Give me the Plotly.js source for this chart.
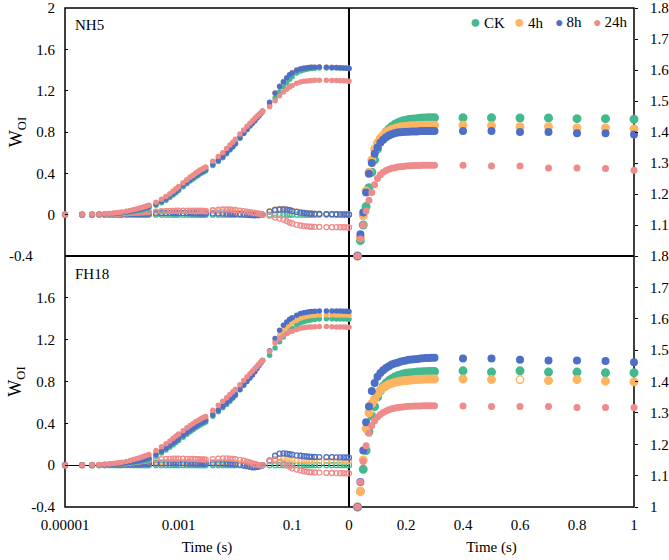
<!DOCTYPE html>
<html>
<head>
<meta charset="utf-8">
<script src="https://cdn.plot.ly/plotly-3.0.1.min.js"></script>
<style>html,body{margin:0;padding:0;background:#fff;}#chart{width:669px;height:560px;}</style>
</head>
<body>
<div id="chart"></div>
<script>
// ---------- DATA ----------
const groups = ['CK', '4h', '8h', '24h'];
const panelLabels = ['NH5', 'FH18'];

// time points (s) for the log-scale panels
const tLog = [0.00001,0.00002,0.00003,0.00004,0.00005,0.00006,0.00007,0.00008,0.00009,0.0001,0.00012,0.00014,0.00016,0.00018,0.0002,0.00022,0.00024,0.00026,0.00028,0.0003,
0.0004,0.0005,0.0006,0.0007,0.0008,0.0009,0.001,0.0012,0.0014,0.0016,0.0018,0.002,0.0022,0.0024,0.0026,0.0028,0.003,
0.004,0.005,0.006,0.007,0.008,0.009,0.01,0.012,0.014,0.016,0.018,0.02,0.022,0.024,0.026,0.028,0.03,
0.04,0.05,0.06,0.07,0.08,0.09,0.1,0.12,0.14,0.16,0.18,0.2,0.22,0.25,0.3,
0.4,0.5,0.6,0.7,0.8,0.9,1];

// time points (s) for the linear panels
const tLin = [0.03,0.04,0.05,0.06,0.07,0.08,0.09,0.1,0.11,0.12,0.13,0.14,0.15,0.16,0.17,0.18,0.19,0.2,0.21,0.22,0.23,0.24,0.25,0.26,0.27,0.28,0.29,0.3,
0.4,0.5,0.6,0.7,0.8,0.9,1];

// NH5 W_OI (log panel)
const nh5CK = [0,0.001,0.002,0.003,0.005,0.007,0.009,0.011,0.014,0.016,0.021,0.026,0.031,0.036,0.041,0.046,0.051,0.056,0.061,0.066,
0.09,0.115,0.14,0.165,0.19,0.212,0.233,0.27,0.3,0.325,0.345,0.365,0.38,0.395,0.405,0.415,0.425,
0.475,0.515,0.55,0.59,0.625,0.655,0.685,0.74,0.785,0.825,0.86,0.89,0.915,0.94,0.96,0.98,1,
1.055,1.13,1.19,1.235,1.275,1.31,1.335,1.37,1.39,1.4,1.407,1.412,1.415,1.418,1.42,
1.42,1.42,1.419,1.418,1.417,1.416,1.414];
const nh5H4 = [0,0.001,0.003,0.004,0.007,0.01,0.013,0.016,0.02,0.023,0.03,0.037,0.044,0.051,0.058,0.064,0.07,0.076,0.082,0.088,
0.116,0.145,0.173,0.2,0.227,0.25,0.272,0.31,0.34,0.365,0.385,0.404,0.419,0.433,0.443,0.452,0.462,
0.51,0.548,0.58,0.618,0.65,0.677,0.705,0.756,0.797,0.834,0.866,0.894,0.917,0.941,0.96,0.98,1,
1.09,1.18,1.245,1.29,1.325,1.355,1.375,1.402,1.415,1.42,1.423,1.425,1.426,1.427,1.428,
1.427,1.426,1.424,1.422,1.421,1.419,1.417];
const nh5H8 = [0,0.001,0.002,0.004,0.006,0.009,0.011,0.014,0.017,0.02,0.026,0.032,0.038,0.044,0.05,0.056,0.061,0.067,0.072,0.078,
0.103,0.129,0.154,0.18,0.205,0.227,0.248,0.285,0.314,0.339,0.359,0.378,0.393,0.408,0.417,0.427,0.437,
0.487,0.527,0.561,0.6,0.634,0.663,0.692,0.745,0.787,0.825,0.857,0.885,0.909,0.935,0.957,0.979,1,
1.085,1.175,1.24,1.285,1.323,1.354,1.37,1.397,1.41,1.416,1.42,1.425,1.426,1.427,1.428,
1.426,1.425,1.423,1.421,1.419,1.418,1.415];
const nh5H24 = [0,0.002,0.003,0.005,0.008,0.011,0.014,0.018,0.022,0.026,0.033,0.041,0.048,0.055,0.062,0.068,0.074,0.08,0.086,0.092,
0.12,0.148,0.175,0.201,0.226,0.249,0.27,0.306,0.336,0.361,0.38,0.4,0.415,0.43,0.44,0.45,0.459,
0.518,0.563,0.6,0.64,0.675,0.702,0.73,0.78,0.82,0.855,0.885,0.91,0.932,0.953,0.97,0.985,1,
1.045,1.102,1.152,1.187,1.213,1.235,1.25,1.272,1.285,1.29,1.294,1.297,1.298,1.3,1.301,
1.3,1.299,1.298,1.296,1.295,1.293,1.29];

// NH5 delta W_OI (treatment minus CK), log panel
const nh5dCK = [0,0,0,0,0,0,0,0,0,0,0,0,0,0,0,0,0,0,0,0,
0,0,0,0,0,0,0,0,0,0,0,0,0,0,0,0,0,
0,0,0,0,0,0,0,0,0,0,0,0,0,0,0,0,0,
0,0,0,0,0,0,0,0,0,0,0,0,0,0,0,
0,0,0,0,0,0,0];
const nh5dH4 = [0,0,0.001,0.001,0.002,0.003,0.004,0.005,0.006,0.007,0.009,0.011,0.013,0.015,0.017,0.018,0.019,0.02,0.021,0.022,
0.026,0.03,0.033,0.035,0.037,0.038,0.039,0.04,0.04,0.04,0.04,0.039,0.039,0.038,0.038,0.037,0.037,
0.035,0.033,0.03,0.028,0.025,0.022,0.02,0.016,0.012,0.009,0.006,0.004,0.002,0.001,0,0,0,
0.035,0.05,0.055,0.055,0.05,0.045,0.04,0.032,0.025,0.02,0.016,0.013,0.011,0.009,0.008,
0.007,0.006,0.005,0.004,0.004,0.003,0.003];
const nh5dH8 = [0,0,0,0.001,0.001,0.002,0.002,0.003,0.003,0.004,0.005,0.006,0.007,0.008,0.009,0.01,0.01,0.011,0.011,0.012,
0.013,0.014,0.014,0.015,0.015,0.015,0.015,0.015,0.014,0.014,0.014,0.013,0.013,0.013,0.012,0.012,0.012,
0.012,0.012,0.011,0.01,0.009,0.008,0.007,0.005,0.002,0,-0.003,-0.005,-0.006,-0.005,-0.003,-0.001,0,
0.03,0.045,0.05,0.05,0.048,0.044,0.035,0.027,0.02,0.016,0.013,0.011,0.009,0.008,0.007,
0.006,0.005,0.004,0.003,0.002,0.002,0.001];
const nh5dH24 = [0,0.001,0.001,0.002,0.003,0.004,0.005,0.007,0.008,0.01,0.012,0.015,0.017,0.019,0.021,0.022,0.023,0.024,0.025,0.026,
0.03,0.033,0.035,0.036,0.036,0.037,0.037,0.036,0.036,0.036,0.035,0.035,0.035,0.035,0.035,0.035,0.034,
0.043,0.048,0.05,0.05,0.05,0.047,0.045,0.04,0.035,0.03,0.025,0.02,0.017,0.013,0.01,0.005,0,
-0.01,-0.028,-0.038,-0.048,-0.062,-0.075,-0.085,-0.098,-0.105,-0.11,-0.113,-0.115,-0.117,-0.118,-0.119,
-0.12,-0.121,-0.121,-0.122,-0.122,-0.123,-0.124];

// FH18 W_OI (log panel)
const fh18CK = [0,0.001,0.002,0.003,0.004,0.005,0.007,0.009,0.011,0.013,0.017,0.022,0.026,0.03,0.034,0.038,0.042,0.046,0.049,0.052,
0.085,0.117,0.145,0.171,0.195,0.216,0.236,0.268,0.296,0.32,0.338,0.357,0.371,0.384,0.395,0.404,0.413,
0.467,0.51,0.548,0.581,0.612,0.641,0.667,0.72,0.768,0.811,0.849,0.882,0.914,0.942,0.964,0.984,1,
1.05,1.12,1.18,1.225,1.26,1.29,1.31,1.34,1.36,1.372,1.38,1.386,1.39,1.394,1.397,
1.399,1.399,1.398,1.398,1.397,1.397,1.396];
const fh18H4 = [0,0.001,0.003,0.004,0.006,0.008,0.011,0.014,0.017,0.02,0.026,0.033,0.039,0.045,0.051,0.057,0.063,0.069,0.073,0.077,
0.113,0.147,0.176,0.203,0.227,0.248,0.268,0.3,0.327,0.351,0.368,0.387,0.4,0.413,0.423,0.432,0.44,
0.497,0.541,0.579,0.611,0.64,0.667,0.691,0.739,0.782,0.82,0.854,0.884,0.914,0.94,0.962,0.983,1,
1.09,1.18,1.245,1.289,1.32,1.346,1.363,1.389,1.406,1.416,1.423,1.428,1.431,1.434,1.437,
1.438,1.438,1.437,1.436,1.435,1.435,1.434];
const fh18H8 = [0,0.001,0.002,0.004,0.005,0.007,0.009,0.012,0.014,0.017,0.022,0.028,0.033,0.038,0.043,0.048,0.053,0.058,0.062,0.066,
0.101,0.134,0.162,0.189,0.213,0.234,0.254,0.286,0.313,0.337,0.355,0.373,0.387,0.4,0.41,0.419,0.428,
0.483,0.526,0.563,0.595,0.624,0.651,0.675,0.723,0.765,0.801,0.833,0.862,0.894,0.925,0.952,0.978,1,
1.095,1.21,1.29,1.337,1.37,1.395,1.41,1.434,1.45,1.458,1.463,1.467,1.469,1.472,1.474,
1.475,1.475,1.473,1.473,1.471,1.471,1.469];
const fh18H24 = [0,0.002,0.004,0.006,0.009,0.012,0.016,0.02,0.024,0.028,0.036,0.045,0.053,0.061,0.069,0.076,0.083,0.09,0.096,0.102,
0.14,0.175,0.205,0.232,0.257,0.278,0.298,0.33,0.357,0.38,0.398,0.415,0.428,0.44,0.45,0.458,0.466,
0.525,0.572,0.612,0.645,0.675,0.702,0.725,0.77,0.81,0.845,0.875,0.9,0.925,0.947,0.965,0.983,1,
1.09,1.168,1.212,1.24,1.26,1.275,1.28,1.298,1.31,1.315,1.318,1.32,1.322,1.324,1.326,
1.325,1.324,1.322,1.321,1.32,1.319,1.318];

// FH18 delta W_OI, log panel
const fh18dCK = [0,0,0,0,0,0,0,0,0,0,0,0,0,0,0,0,0,0,0,0,
0,0,0,0,0,0,0,0,0,0,0,0,0,0,0,0,0,
0,0,0,0,0,0,0,0,0,0,0,0,0,0,0,0,0,
0,0,0,0,0,0,0,0,0,0,0,0,0,0,0,
0,0,0,0,0,0,0];
const fh18dH4 = [0,0,0.001,0.001,0.002,0.003,0.004,0.005,0.006,0.007,0.009,0.011,0.013,0.015,0.017,0.019,0.021,0.023,0.024,0.025,
0.028,0.03,0.031,0.032,0.032,0.032,0.032,0.032,0.031,0.031,0.03,0.03,0.029,0.029,0.028,0.028,0.027,
0.03,0.031,0.031,0.03,0.028,0.026,0.024,0.019,0.014,0.009,0.005,0.002,0,-0.002,-0.002,-0.001,0,
0.04,0.06,0.065,0.064,0.06,0.056,0.053,0.049,0.046,0.044,0.043,0.042,0.041,0.04,0.04,
0.039,0.039,0.039,0.038,0.038,0.038,0.038];
const fh18dH8 = [0,0,0,0.001,0.001,0.002,0.002,0.003,0.003,0.004,0.005,0.006,0.007,0.008,0.009,0.01,0.011,0.012,0.013,0.014,
0.016,0.017,0.017,0.018,0.018,0.018,0.018,0.018,0.017,0.017,0.017,0.016,0.016,0.016,0.015,0.015,0.015,
0.016,0.016,0.015,0.014,0.012,0.01,0.008,0.003,-0.003,-0.01,-0.016,-0.02,-0.02,-0.017,-0.012,-0.006,0,
0.045,0.09,0.11,0.112,0.11,0.105,0.1,0.094,0.09,0.086,0.083,0.081,0.079,0.078,0.077,
0.076,0.076,0.075,0.075,0.074,0.074,0.073];
const fh18dH24 = [0,0.001,0.002,0.003,0.005,0.007,0.009,0.011,0.013,0.015,0.019,0.023,0.027,0.031,0.035,0.038,0.041,0.044,0.047,0.05,
0.055,0.058,0.06,0.061,0.062,0.062,0.062,0.062,0.061,0.06,0.06,0.058,0.057,0.056,0.055,0.054,0.053,
0.058,0.062,0.064,0.064,0.063,0.061,0.058,0.05,0.042,0.034,0.026,0.018,0.011,0.005,0.001,-0.001,0,
0.04,0.048,0.032,0.015,0,-0.015,-0.03,-0.042,-0.05,-0.057,-0.062,-0.066,-0.068,-0.07,-0.071,
-0.074,-0.075,-0.076,-0.077,-0.077,-0.078,-0.078];

// W_OI >= 1 on linear time (right panels)
const nh5LinCK = [1,1.05,1.1,1.16,1.22,1.27,1.31,1.345,1.37,1.385,1.4,1.41,1.418,1.424,1.429,1.433,1.436,1.438,1.44,1.441,1.442,1.443,1.444,1.445,1.445,1.446,1.446,1.446,
1.446,1.446,1.445,1.445,1.443,1.443,1.441];
const nh5LinH4 = [1,1.06,1.13,1.21,1.27,1.31,1.345,1.365,1.38,1.39,1.398,1.404,1.408,1.411,1.414,1.416,1.417,1.418,1.419,1.42,1.42,1.421,1.421,1.421,1.422,1.422,1.422,1.422,
1.422,1.42,1.417,1.417,1.413,1.413,1.41];
const nh5LinH8 = [1,1.07,1.14,1.205,1.265,1.3,1.33,1.35,1.365,1.375,1.383,1.389,1.393,1.396,1.398,1.399,1.4,1.401,1.401,1.402,1.402,1.402,1.403,1.403,1.403,1.403,1.403,1.403,
1.403,1.403,1.4,1.4,1.396,1.396,1.392];
const nh5LinH24 = [1,1.055,1.1,1.145,1.18,1.205,1.23,1.25,1.262,1.27,1.276,1.28,1.283,1.285,1.287,1.288,1.289,1.29,1.291,1.291,1.292,1.292,1.292,1.293,1.293,1.293,1.293,1.293,
1.293,1.29,1.29,1.284,1.284,1.282,1.277];
const fh18LinCK = [1,1.05,1.12,1.18,1.24,1.29,1.32,1.35,1.37,1.385,1.395,1.403,1.409,1.414,1.418,1.421,1.424,1.426,1.427,1.428,1.429,1.43,1.43,1.431,1.431,1.432,1.432,1.432,
1.434,1.43,1.434,1.43,1.43,1.428,1.428];
const fh18LinH4 = [1,1.05,1.15,1.25,1.3,1.33,1.345,1.36,1.372,1.38,1.386,1.391,1.394,1.397,1.399,1.401,1.402,1.403,1.404,1.405,1.406,1.406,1.407,1.407,1.408,1.408,1.408,1.408,
1.408,1.406,1.406,1.403,1.406,1.401,1.399];
const fh18LinH8 = [1,1.08,1.18,1.27,1.32,1.37,1.395,1.415,1.427,1.436,1.443,1.449,1.454,1.457,1.46,1.463,1.465,1.467,1.469,1.47,1.471,1.472,1.473,1.474,1.475,1.475,1.476,1.476,
1.473,1.473,1.469,1.467,1.467,1.465,1.461];
const fh18LinH24 = [1,1.08,1.145,1.195,1.235,1.26,1.275,1.287,1.295,1.301,1.306,1.31,1.313,1.315,1.317,1.318,1.319,1.32,1.321,1.321,1.322,1.322,1.322,1.323,1.323,1.323,1.323,1.323,
1.322,1.32,1.32,1.32,1.317,1.317,1.317];

const leftTickVals = [-0.4, 0, 0.4, 0.8, 1.2, 1.6, 2];
const leftTickText = ['-0.4', '0', '0.4', '0.8', '1.2', '1.6', '2'];
const rightTickVals = [1, 1.1, 1.2, 1.3, 1.4, 1.5, 1.6, 1.7, 1.8];
const rightTickText = ['1', '1.1', '1.2', '1.3', '1.4', '1.5', '1.6', '1.7', '1.8'];
const logTickVals = [0.00001, 0.001, 0.1];
const logTickText = ['0.00001', '0.001', '0.1'];
const linTickVals = [0, 0.2, 0.4, 0.6, 0.8, 1];
const linTickText = ['0', '0.2', '0.4', '0.6', '0.8', '1'];

// ---------- STYLE ----------
const colors = {'CK': '#44B98F', '4h': '#FDB562', '8h': '#4E6FC6', '24h': '#EE8B8B'};
const rightSize = {'CK': 7.5, '4h': 7.5, '8h': 6.5, '24h': 5.5};
const legendDot = {'CK': 18, '4h': 18, '8h': 14, '24h': 14};
const legendLeftPx = {'CK': 468, '4h': 512, '8h': 553, '24h': 591};
const FONT = 'Liberation Serif, Times New Roman, serif';

const W = 669, H = 560;
const mL = 65, mR = 35, mT = 8, mB = 53;
const PW = W - mL - mR, PH = H - mT - mB;
const xSplit = (349 - mL) / PW;
const ySplit = (H - mB - 256) / PH;

const logData = {
  NH5: {W: [nh5CK, nh5H4, nh5H8, nh5H24], D: [nh5dCK, nh5dH4, nh5dH8, nh5dH24], xa: 'x3', ya: 'y'},
  FH18: {W: [fh18CK, fh18H4, fh18H8, fh18H24], D: [fh18dCK, fh18dH4, fh18dH8, fh18dH24], xa: 'x', ya: 'y2'}
};
const linData = {
  NH5: {W: [nh5LinCK, nh5LinH4, nh5LinH8, nh5LinH24], xa: 'x4', ya: 'y3'},
  FH18: {W: [fh18LinCK, fh18LinH4, fh18LinH8, fh18LinH24], xa: 'x2', ya: 'y4'}
};

const traces = [];
panelLabels.forEach(p => {
  const d = logData[p];
  groups.forEach((g, i) => {
    traces.push({
      type: 'scatter', mode: 'markers', x: tLog, y: d.D[i], xaxis: d.xa, yaxis: d.ya,
      name: g, showlegend: false, cliponaxis: false, hoverinfo: 'skip',
      marker: {symbol: 'circle-open', size: 5, color: colors[g], line: {width: 1.3, color: colors[g]}}
    });
  });
  groups.forEach((g, i) => {
    traces.push({
      type: 'scatter', mode: 'markers', x: tLog, y: d.W[i], xaxis: d.xa, yaxis: d.ya,
      name: g, showlegend: false, cliponaxis: false, hoverinfo: 'skip',
      marker: {symbol: 'circle', size: 5.5, color: colors[g]}
    });
  });
});
panelLabels.forEach((p, pi) => {
  const d = linData[p];
  groups.forEach((g, i) => {
    // one hollow-looking 4h marker at 0.6 s in FH18 as in the original
    const fill = tLin.map(t => (p === 'FH18' && g === '4h' && t === 0.6) ? '#ffffff' : colors[g]);
    traces.push({
      type: 'scatter', mode: 'markers', x: tLin, y: d.W[i], xaxis: d.xa, yaxis: d.ya,
      name: g, showlegend: false, legendgroup: g, cliponaxis: false, hoverinfo: 'skip',
      marker: {symbol: 'circle', size: rightSize[g], color: fill, line: {width: 1.5, color: colors[g]}}
    });
  });
});

const txtFont = {family: FONT, size: 15, color: '#000'};
const common = {showgrid: false, zeroline: false, showline: false, tickfont: txtFont, fixedrange: true,
                ticklabeloverflow: 'allow'};

// compact legend row (CK, 4h, 8h, 24h) as in the original
const legendAnn = groups.map(g => ({
  text: '<span style="color:' + colors[g] + ';font-size:' + legendDot[g] + 'px">\u25CF</span>\u2009' + g,
  xref: 'paper', yref: 'paper', x: (legendLeftPx[g] - mL) / PW, y: 1 - (22 - mT) / PH,
  xanchor: 'left', yanchor: 'middle', showarrow: false, font: txtFont
}));

const layout = {
  width: W, height: H,
  margin: {l: mL, r: mR, t: mT, b: mB},
  paper_bgcolor: '#fff', plot_bgcolor: '#fff',
  font: txtFont,
  showlegend: false,
  xaxis: Object.assign({}, common, {domain: [0, xSplit], anchor: 'y2', type: 'log', range: [-5, 0],
          tickvals: logTickVals, ticktext: logTickText, ticks: '', ticklabelstandoff: 7,
          title: {text: 'Time (s)', font: txtFont, standoff: 9}}),
  xaxis3: Object.assign({}, common, {domain: [0, xSplit], anchor: 'y', type: 'log', range: [-5, 0],
          showticklabels: false, ticks: ''}),
  xaxis2: Object.assign({}, common, {domain: [xSplit, 1], anchor: 'y4', range: [0, 1],
          tickvals: linTickVals, ticktext: linTickText, ticks: '', ticklabelstandoff: 7,
          title: {text: 'Time (s)', font: txtFont, standoff: 9}}),
  xaxis4: Object.assign({}, common, {domain: [xSplit, 1], anchor: 'y3', range: [0, 1],
          showticklabels: false, ticks: ''}),
  yaxis: Object.assign({}, common, {domain: [ySplit, 1], anchor: 'x3', range: [-0.4, 2],
          tickvals: leftTickVals.slice(1), ticktext: leftTickText.slice(1),
          ticks: 'inside', ticklen: 3, tickwidth: 1, tickcolor: '#000', ticklabelstandoff: 9,
          title: {text: 'W<sub>OI</sub>', font: {family: FONT, size: 18, color: '#000'}, standoff: 8}}),
  yaxis2: Object.assign({}, common, {domain: [0, ySplit], anchor: 'x', range: [-0.4, 2],
          tickvals: leftTickVals.slice(0, 6), ticktext: leftTickText.slice(0, 6),
          ticks: 'inside', ticklen: 3, tickwidth: 1, tickcolor: '#000', ticklabelstandoff: 9,
          zeroline: true, zerolinecolor: '#000', zerolinewidth: 1,
          title: {text: 'W<sub>OI</sub>', font: {family: FONT, size: 18, color: '#000'}, standoff: 4}}),
  yaxis3: Object.assign({}, common, {domain: [ySplit, 1], anchor: 'x4', side: 'right', range: [1, 1.8],
          tickvals: rightTickVals.slice(1), ticktext: rightTickText.slice(1),
          ticks: 'outside', ticklen: 3, tickwidth: 1, tickcolor: '#000', ticklabelstandoff: 9}),
  yaxis4: Object.assign({}, common, {domain: [0, ySplit], anchor: 'x2', side: 'right', range: [1, 1.8],
          tickvals: rightTickVals, ticktext: rightTickText,
          ticks: 'outside', ticklen: 3, tickwidth: 1, tickcolor: '#000', ticklabelstandoff: 9}),
  shapes: [
    {type: 'rect', xref: 'paper', yref: 'paper', x0: 0, x1: 1, y0: 0, y1: 1, layer: 'below',
     line: {color: '#000', width: 1.5}},
    {type: 'line', xref: 'paper', yref: 'paper', x0: xSplit, x1: xSplit, y0: 0, y1: 1, layer: 'below',
     line: {color: '#000', width: 2}},
    {type: 'line', xref: 'paper', yref: 'paper', x0: 0, x1: 1, y0: ySplit, y1: ySplit, layer: 'below',
     line: {color: '#000', width: 2}}
  ],
  annotations: [
    {text: panelLabels[0], xref: 'paper', yref: 'paper', x: 8 / PW, y: 1 - 7 / PH,
     xanchor: 'left', yanchor: 'top', showarrow: false, font: txtFont},
    {text: panelLabels[1], xref: 'paper', yref: 'paper', x: 8 / PW, y: ySplit - 8 / PH,
     xanchor: 'left', yanchor: 'top', showarrow: false, font: txtFont},
    {text: leftTickText[0], xref: 'paper', yref: 'y', x: (7 - mL) / PW, y: leftTickVals[0],
     xanchor: 'left', yanchor: 'middle', showarrow: false, font: txtFont}
  ].concat(legendAnn)
};

Plotly.newPlot('chart', traces, layout, {displayModeBar: false, staticPlot: true});
</script>
</body>
</html>
